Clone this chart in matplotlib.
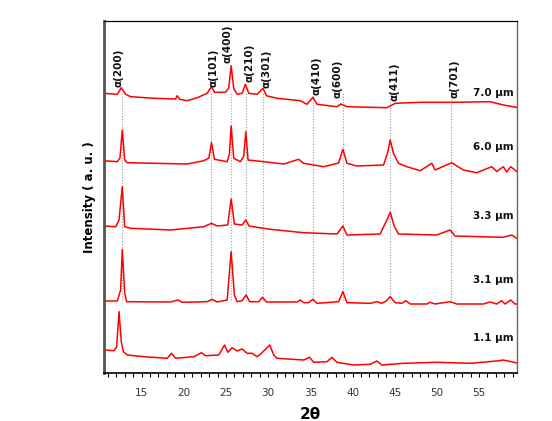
import matplotlib
matplotlib.use("Agg")
import matplotlib.pyplot as plt
import numpy as np
from matplotlib.ticker import MultipleLocator

# ---------------- data (2theta, relative intensity) ----------------
samples = ["7.0 μm", "6.0 μm", "3.3 μm", "3.1 μm", "1.1 μm"]

tt_70 = [10.54, 12.12, 12.59, 13.10, 13.70, 16.46, 19.02, 19.22, 19.53, 20.40, 21.60, 22.77,
         23.28, 23.64, 24.94, 25.33, 25.61, 25.92, 26.32, 26.91, 27.30, 27.70, 28.69, 29.40,
         29.79, 31.05, 33.81, 34.60, 35.31, 35.79, 38.15, 38.63, 39.34, 44.07, 45.06, 48.00,
         51.96, 56.30, 57.88, 59.65]
int_70 = [14.7, 13.7, 20.3, 13.7, 11.3, 9.7, 9.0, 12.3, 8.7, 7.3, 10.3, 14.7,
          21.3, 15.7, 15.7, 20.0, 42.3, 19.7, 13.7, 14.7, 23.7, 14.7, 13.7, 19.7,
          12.3, 9.7, 7.3, 3.7, 10.7, 3.7, 1.3, 4.0, 1.3, 0.3, 4.7, 5.7,
          5.7, 6.3, 3.0, 0.3]

tt_60 = [10.54, 12.12, 12.43, 12.71, 12.99, 13.30, 16.46, 20.40, 22.37, 22.97, 23.28, 23.64,
         25.14, 25.41, 25.61, 25.92, 26.71, 27.11, 27.35, 27.62, 29.48, 31.84, 33.62, 34.21,
         36.58, 38.35, 38.86, 39.34, 40.52, 43.68, 44.15, 44.47, 44.86, 45.45, 46.44, 48.02,
         49.40, 49.79, 51.76, 53.14, 54.72, 56.50, 57.10, 57.88, 58.27, 58.75, 59.65]
int_60 = [13.3, 12.3, 16.0, 44.0, 14.0, 11.3, 10.7, 10.0, 13.3, 16.0, 31.3, 14.7,
          12.3, 20.0, 48.0, 15.7, 12.3, 18.0, 42.3, 14.0, 12.3, 10.0, 14.7, 10.7,
          7.3, 11.0, 24.7, 10.7, 8.0, 9.0, 21.0, 34.0, 20.7, 10.7, 7.3, 3.3,
          10.7, 4.0, 11.3, 4.0, 1.3, 7.3, 2.5, 7.3, 2.0, 7.3, 1.3]

tt_33 = [10.54, 11.92, 12.32, 12.71, 12.99, 13.70, 18.43, 22.37, 23.28, 23.95, 25.21, 25.61,
         26.00, 26.91, 27.35, 27.74, 30.26, 34.21, 38.15, 38.86, 39.34, 43.28, 44.07, 44.47,
         44.94, 45.45, 49.99, 51.57, 52.15, 57.88, 58.87, 59.65]
int_33 = [14.0, 13.3, 20.0, 53.3, 13.3, 11.7, 10.0, 13.3, 16.7, 14.0, 15.0, 41.0,
          16.0, 15.0, 20.0, 14.0, 10.7, 7.3, 6.0, 14.0, 5.0, 6.0, 20.0, 27.7,
          14.0, 6.0, 5.0, 10.0, 4.0, 2.7, 5.0, 0.7]

tt_31 = [10.54, 12.12, 12.51, 12.71, 12.99, 13.22, 18.43, 19.30, 19.81, 22.77, 23.36, 23.95,
         25.14, 25.61, 26.00, 26.32, 26.91, 27.38, 27.82, 28.88, 29.32, 29.79, 33.42, 33.81,
         34.21, 34.80, 35.31, 35.79, 38.35, 38.86, 39.34, 42.10, 42.89, 43.48, 43.99, 44.47,
         45.06, 45.84, 46.32, 46.83, 48.80, 49.20, 49.79, 51.57, 52.37, 55.52, 56.30, 57.10,
         57.68, 58.08, 58.75, 59.26, 59.65]
int_31 = [3.0, 3.0, 14.0, 54.7, 11.0, 2.3, 2.0, 4.0, 1.7, 2.3, 4.7, 2.0,
          4.0, 52.3, 9.0, 2.3, 3.3, 9.0, 2.3, 2.3, 6.7, 2.0, 2.0, 4.0,
          1.3, 1.3, 4.7, 0.7, 2.3, 12.3, 1.3, 0.7, 2.3, 0.7, 3.0, 7.3,
          1.3, 0.7, 3.3, 0.0, 0.0, 1.7, 0.0, 2.3, 0.0, 0.0, 2.0, 0.0,
          3.3, 0.0, 4.0, 0.0, 0.0]

tt_11 = [10.54, 11.72, 12.04, 12.32, 12.59, 12.83, 13.30, 15.27, 18.04, 18.55, 19.02, 21.19,
         22.10, 22.57, 24.15, 24.82, 25.21, 25.73, 26.32, 26.91, 27.50, 28.10, 28.69, 29.08,
         30.19, 30.66, 31.05, 34.21, 34.92, 35.39, 36.97, 37.56, 38.15, 40.13, 42.10, 42.89,
         43.48, 46.04, 50.00, 53.93, 57.09, 57.88, 59.65]
int_11 = [15.0, 14.3, 18.3, 53.3, 23.3, 13.3, 10.0, 8.3, 6.7, 11.7, 6.7, 8.3,
          12.3, 9.3, 10.0, 20.0, 12.7, 17.3, 14.0, 16.0, 11.7, 11.7, 8.3, 10.7,
          20.0, 10.0, 6.7, 5.0, 7.7, 2.7, 3.3, 7.7, 2.7, 0.0, 0.7, 4.0,
          0.0, 1.7, 2.7, 1.7, 4.0, 5.0, 1.7]

series_tt = [tt_70, tt_60, tt_33, tt_31, tt_11]
series_int = [int_70, int_60, int_33, int_31, int_11]

peak_labels = ["α(200)", "α(101)", "α(400)", "α(210)", "α(301)",
               "α(410)", "α(600)", "α(411)", "α(701)"]
peak_pos = [12.71, 23.28, 25.61, 27.35, 29.40, 35.31, 38.86, 44.47, 51.72]

x_ticks = [15, 20, 25, 30, 35, 40, 45, 50, 55]

# ---------------- layout ----------------
offsets = [265, 199, 133, 69, 8]
sample_label_y = [280, 226, 157, 93, 35]
sample_label_x = 59.1
peak_label_x = [12.2, 23.56, 25.2, 27.82, 29.83, 35.75, 38.23, 44.98, 52.08]
peak_label_y = [286, 286, 310, 291, 285, 278, 275, 272, 275]

fig = plt.figure(figsize=(5.52, 4.21), dpi=100)
ax = fig.add_axes([104/552, 48/421, 413/552, 352/421])

ax.vlines(peak_pos, 73, 280, colors="#9a9a9a", linestyles=(0, (1, 1.5)), lw=0.8, zorder=1)

for tt, it, off in zip(series_tt, series_int, offsets):
    ax.plot(tt, np.asarray(it) + off, color="#ff0000", lw=1.1, zorder=2)

for lab, y in zip(samples, sample_label_y):
    ax.text(sample_label_x, y, lab, ha="right", va="center", fontsize=7.5,
            fontweight="bold", color="#111111")

for lab, x, y in zip(peak_labels, peak_label_x, peak_label_y):
    ax.text(x, y, lab, rotation=90, ha="center", va="bottom", fontsize=7.5,
            fontweight="bold", color="#111111")

ax.set_xlim(10.54, 59.5)
ax.set_ylim(0, 352)
ax.set_yticks([])
ax.set_xticks(x_ticks)
ax.xaxis.set_minor_locator(MultipleLocator(1))
ax.tick_params(axis="x", which="both", direction="out", length=3, width=0.8,
               labelsize=7.5, labelcolor="#333333", pad=8)

ax.spines["left"].set_color("#555555")
ax.spines["left"].set_linewidth(2.0)
ax.spines["bottom"].set_linewidth(1.2)
ax.spines["top"].set_linewidth(0.9)
ax.spines["right"].set_linewidth(1.0)
ax.spines["right"].set_color("#666666")

ax.set_xlabel("2θ", fontsize=11, fontweight="bold", labelpad=6)
ax.set_ylabel("Intensity ( a. u. )", fontsize=8.5, fontweight="bold", labelpad=6)

fig.savefig("out.png", dpi=100)
